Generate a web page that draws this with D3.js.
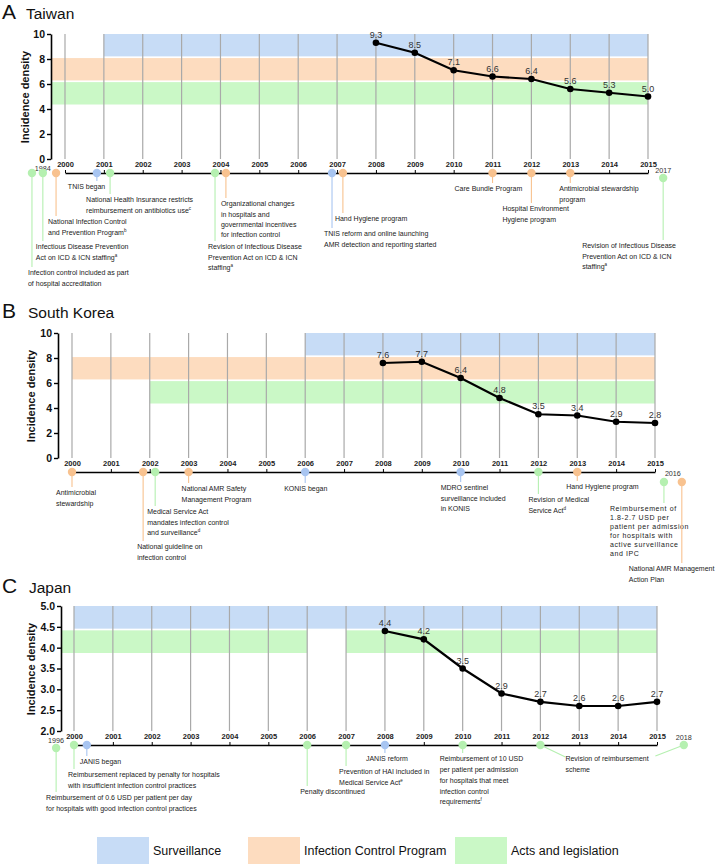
<!DOCTYPE html>
<html><head><meta charset="utf-8">
<script src="https://cdn.jsdelivr.net/npm/d3@7"></script>
<style>body{margin:0;background:#fff} svg{display:block;font-family:"Liberation Sans",Arial,Helvetica,sans-serif}</style>
</head><body><svg id="c" width="718" height="864"></svg>
<script>
// ---------------- DATA ----------------
const yearLabels = [2000,2001,2002,2003,2004,2005,2006,2007,2008,2009,2010,2011,2012,2013,2014,2015];
const dataYears = [2008,2009,2010,2011,2012,2013,2014,2015];
const taiwanValues = [9.3,8.5,7.1,6.6,6.4,5.6,5.3,5.0];
const koreaValues  = [7.6,7.7,6.4,4.8,3.5,3.4,2.9,2.8];
const japanValues  = [4.4,4.2,3.5,2.9,2.7,2.6,2.6,2.7];
const taiwanTicks = [0,2,4,6,8,10];
const koreaTicks  = [0,2,4,6,8,10];
const japanTicks  = [2.0,2.5,3.0,3.5,4.0,4.5,5.0];
const categories = ["Surveillance","Infection Control Program","Acts and legislation"];

// policy periods: [category, from, to]
const taiwanPeriods = [["Surveillance",2001,2015],["Infection Control Program",1984,2015],["Acts and legislation",1984,2015]];
const koreaPeriods  = [["Surveillance",2006,2015],["Infection Control Program",2000,2015],["Acts and legislation",2002,2015]];
const japanPeriods  = [["Surveillance",2000,2015],["Acts and legislation",1996,2006],["Acts and legislation",2007,2015]];

// events: [time on timeline (year units), category, text lines]
const taiwanEvents = [
  [1999.15,"Acts and legislation",["Infection control included as part","of hospital accreditation"]],
  [1999.43,"Acts and legislation",["Infectious Disease Prevention","Act on ICD & ICN staffing^a"]],
  [1999.77,"Infection Control Program",["National Infection Control","and Prevention Program^b"]],
  [2000.82,"Surveillance",["TNIS began"]],
  [2001.16,"Acts and legislation",["National Health Insurance restricts","reimbursement on antibiotics use^c"]],
  [2003.86,"Acts and legislation",["Revision of Infectious Disease","Prevention Act on ICD & ICN","staffing^a"]],
  [2004.14,"Infection Control Program",["Organizational changes","in hospitals and","governmental incentives","for infection control"]],
  [2006.87,"Surveillance",["TNIS reform and online launching","AMR detection and reporting started"]],
  [2007.15,"Infection Control Program",["Hand Hygiene program"]],
  [2011,"Infection Control Program",["Care Bundle Program"]],
  [2012,"Infection Control Program",["Hospital Environment","Hygiene program"]],
  [2013,"Infection Control Program",["Antimicrobial stewardship","program"]],
  [2015.39,"Acts and legislation",["Revision of Infectious Disease","Prevention Act on ICD & ICN","staffing^a"]]
];
const koreaEvents = [
  [2000,"Infection Control Program",["Antimicrobial","stewardship"]],
  [2001.83,"Infection Control Program",["National guideline on","infection control"]],
  [2002.14,"Acts and legislation",["Medical Service Act","mandates infection control","and surveillance^d"]],
  [2003,"Infection Control Program",["National AMR Safety","Management Program"]],
  [2006,"Surveillance",["KONIS began"]],
  [2010,"Surveillance",["MDRO sentinel","surveillance included","in KONIS"]],
  [2012,"Acts and legislation",["Revision of Medical","Service Act^d"]],
  [2013,"Infection Control Program",["Hand Hygiene program"]],
  [2015.23,"Acts and legislation",["Reimbursement of","1.8-2.7 USD per","patient per admission","for hospitals with","active surveillance","and IPC"]],
  [2015.69,"Infection Control Program",["National AMR Management","Action Plan"]]
];
const japanEvents = [
  [1999.54,"Acts and legislation",["Reimbursement of 0.6 USD per patient per day","for hospitals with good infection control practices"]],
  [2000,"Acts and legislation",["Reimbursement replaced by penalty for hospitals","with insufficient infection control practices"]],
  [2000.33,"Surveillance",["JANIS began"]],
  [2006,"Acts and legislation",["Penalty discontinued"]],
  [2007,"Acts and legislation",["Prevention of HAI included in","Medical Service Act^e"]],
  [2008,"Surveillance",["JANIS reform"]],
  [2010,"Acts and legislation",["Reimbursement of 10 USD","per patient per admission","for hospitals that meet","infection control","requirements^f"]],
  [[2012,2015.69],"Acts and legislation",["Revision of reimbursement","scheme"]]
];
// off-axis year labels: [label, time]
const taiwanOuter = [["1984",1999.43],["2017",2015.39]];
const koreaOuter  = [["2016",2015.46]];
const japanOuter  = [["1996",1999.54],["2018",2015.69]];

// ---------------- LAYOUT / STYLE ----------------
const COL = {
  "Surveillance":{band:"#c7dcf6",dot:"#a8c5f1"},
  "Infection Control Program":{band:"#fddcbf",dot:"#f8c28f"},
  "Acts and legislation":{band:"#caf8c6",dot:"#b5f0b0"}
};
// note layout: [dx text from dot, first-line offset from timeline, dot dy, line height, letter-spacing]
const taiwanLayout = [[-4,100,0],[-7,74,0],[-8,49,0],[-29,14,0],[-24,27,0],[-7,74,0],[-5,31,0],[-8,61,0],[-8,46,0],[-38,16,0],[-29,36,0],[-11,16,0],[-81,73,5]];
const koreaLayout  = [[-16,21,0],[-6,75,0],[-8,40,0],[-7,17,0],[-21,17,0],[-20,16,0],[-10,28,0],[-11,15,0],[-54,37,10,9,0.6],[-53,97,10]];
const japanLayout  = [[-10,53,3],[-6,30,0],[-7,17,0],[-7,47,0],[-7,27,0],[-19,14,0],[-23,14,0,10.7],[25,14,0]];
const outerDy = {taiwan:[-4.5,-3], korea:[1], japan:[-5,-8]};

const panels = [
  {key:"taiwan",title:"A",name:"Taiwan",titleY:19,nameX:26,x0:65,axisX:51,top:34,bottom:159,domainY:[0,10],ticks:taiwanTicks,fmt:d3.format("d"),tl:173,values:taiwanValues,periods:taiwanPeriods,events:taiwanEvents,layout:taiwanLayout,outer:taiwanOuter,labX:25.5,labY:97},
  {key:"korea",title:"B",name:"South Korea",titleY:318,nameX:28,x0:72,axisX:58,top:333,bottom:458,domainY:[0,10],ticks:koreaTicks,fmt:d3.format("d"),tl:472,values:koreaValues,periods:koreaPeriods,events:koreaEvents,layout:koreaLayout,outer:koreaOuter,labX:31.5,labY:396},
  {key:"japan",title:"C",name:"Japan",titleY:593,nameX:29,x0:74,axisX:61,top:606,bottom:731,domainY:[2,5],ticks:japanTicks,fmt:d3.format(".1f"),tl:745,values:japanValues,periods:japanPeriods,events:japanEvents,layout:japanLayout,outer:japanOuter,labX:31,labY:669}
];

const svg = d3.select("#c");

function addLines(sel, lines, x, y0, lh, ls){
  lines.forEach((ln,k)=>{
    const t = sel.append("text").attr("x",x).attr("y",y0 + k*lh).attr("dy","0.35em")
      .attr("font-size",7).attr("fill","#222");
    if (ls) t.attr("letter-spacing",ls);
    const parts = ln.split("^");
    t.append("tspan").text(parts[0]);
    if (parts[1]) t.append("tspan").attr("font-size",4.5).attr("dy",-3).text(parts[1]);
  });
}

panels.forEach(p=>{
  const g = svg.append("g");
  const x = d3.scaleLinear().domain([2000,2015]).range([p.x0, p.x0 + 583]);
  const y = d3.scaleLinear().domain(p.domainY).range([p.bottom, p.top]);

  g.append("text").attr("x",2).attr("y",p.titleY).attr("font-size",21).attr("fill","#111").text(p.title);
  g.append("text").attr("x",p.nameX).attr("y",p.titleY).attr("font-size",15.5).attr("fill","#111").text(p.name);

  // bands
  const rowCats = categories.filter(c => p.periods.some(d => d[0]===c));
  const row = d3.scaleBand().domain(rowCats).range([p.top, p.top + rowCats.length*23.5]).paddingInner(0.07).paddingOuter(0);
  const left = d => Math.max(p.axisX+1, x(d[1]));
  g.selectAll("rect.band").data(p.periods).join("rect").attr("class","band")
    .attr("x", left).attr("width", d => x(d[2]) - left(d))
    .attr("y", d => row(d[0])).attr("height", row.bandwidth())
    .attr("fill", d => COL[d[0]].band);

  // gridlines
  g.selectAll("line.grid").data(yearLabels).join("line").attr("class","grid")
    .attr("x1",d=>x(d)).attr("x2",d=>x(d)).attr("y1",p.top).attr("y2",p.bottom)
    .attr("stroke","#a9a9a9").attr("stroke-width",1.2);

  // y axis
  const ax = g.append("g").attr("transform",`translate(${p.axisX},0)`)
    .call(d3.axisLeft(y).tickValues(p.ticks).tickSize(4).tickSizeOuter(0).tickPadding(2).tickFormat(p.fmt));
  ax.select(".domain").attr("stroke","#000").attr("stroke-width",1.6);
  ax.selectAll(".tick line").attr("stroke","#000").attr("stroke-width",1.4);
  ax.selectAll(".tick text").attr("font-size",10.5).attr("font-weight","bold").attr("fill","#111")
    .attr("font-family",'"Liberation Sans",Arial,sans-serif');
  g.append("text").attr("transform",`translate(${p.labX},${p.labY}) rotate(-90)`)
    .attr("text-anchor","middle").attr("dy","0.35em").attr("font-size",11).attr("font-weight","bold")
    .attr("fill","#111").text("Incidence density");

  // series
  const pts = dataYears.map((yr,i)=>[yr,p.values[i]]);
  g.append("path").datum(pts).attr("fill","none").attr("stroke","#000").attr("stroke-width",2.2)
    .attr("d", d3.line().x(d=>x(d[0])).y(d=>y(d[1])));
  g.selectAll("circle.pt").data(pts).join("circle").attr("class","pt")
    .attr("cx",d=>x(d[0])).attr("cy",d=>y(d[1])).attr("r",3.3).attr("fill","#000");
  g.selectAll("text.val").data(pts).join("text").attr("class","val")
    .attr("x",d=>x(d[0])).attr("y",d=>y(d[1])-5).attr("text-anchor","middle")
    .attr("font-size",9).attr("fill","#333").text(d=>d3.format(".1f")(d[1]));

  // timeline
  const tlg = g.append("g").attr("transform",`translate(0,${p.tl})`)
    .call(d3.axisTop(x).tickValues(yearLabels).tickSize(3).tickSizeOuter(0).tickPadding(3).tickFormat(d3.format("d")));
  tlg.select(".domain").attr("stroke","#000").attr("stroke-width",1.6);
  tlg.selectAll(".tick line").attr("stroke","#000");
  tlg.selectAll(".tick text").attr("font-size",7.5).attr("font-weight","bold").attr("fill","#222")
    .attr("font-family",'"Liberation Sans",Arial,sans-serif');

  p.outer.forEach((o,i)=>{
    g.append("text").attr("x",x(o[1])).attr("y",p.tl + outerDy[p.key][i]).attr("dy","0.35em")
      .attr("text-anchor","middle").attr("font-size",7.2).attr("fill","#333").text(o[0]);
  });

  // events
  const eg = g.append("g");
  p.events.forEach((ev,i)=>{
    const L = p.layout[i];
    const col = COL[ev[1]];
    const ats = Array.isArray(ev[0]) ? ev[0] : [ev[0]];
    const cx = x(ats[0]), cy = p.tl + L[2];
    const tx = cx + L[0], ty = p.tl + L[1];
    const lh = L[3] || 10.2;
    if (ats.length === 1){
      eg.append("line").attr("x1",cx).attr("x2",cx).attr("y1",cy).attr("y2",ty-6)
        .attr("stroke",col.dot).attr("stroke-width",1.1);
    } else {
      ats.forEach((a,k)=>{
        eg.append("line").attr("x1",x(a)).attr("y1",cy).attr("x2",tx + k*90).attr("y2",ty-2 - k*1)
          .attr("stroke",col.dot).attr("stroke-width",1.1);
      });
    }
    addLines(eg, ev[2], tx, ty, lh, L[4]);
    ats.forEach(a=>{
      eg.append("circle").attr("cx",x(a)).attr("cy",cy).attr("r",4.2).attr("fill",col.dot);
    });
  });
});

// legend
const legendX = [97,248,455];
const lg = svg.append("g");
categories.forEach((c,i)=>{
  lg.append("rect").attr("x",legendX[i]).attr("y",837).attr("width",52).attr("height",27).attr("fill",COL[c].band);
  lg.append("text").attr("x",legendX[i]+56).attr("y",851).attr("dy","0.35em").attr("font-size",12.5).attr("fill","#111").text(c);
});
</script>
</body></html>
